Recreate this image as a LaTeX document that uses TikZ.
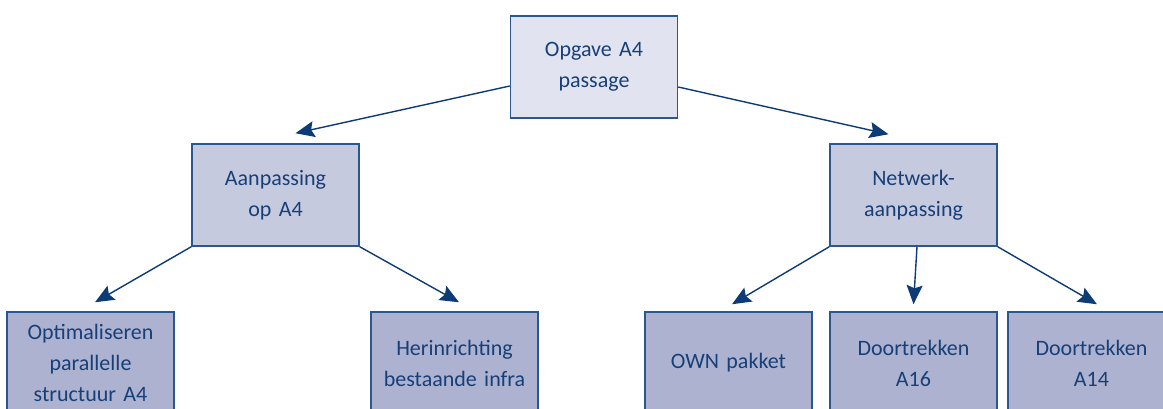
\documentclass[tikz,border=0pt]{standalone}
\usepackage{fontspec}
\setmainfont{Carlito}
\usetikzlibrary{arrows.meta}
\definecolor{fillA}{HTML}{E1E4F0}
\definecolor{fillB}{HTML}{C6CADF}
\definecolor{fillC}{HTML}{ADB2D0}
\definecolor{edgeC}{HTML}{2A5790}
\definecolor{txtC}{HTML}{173F78}
\definecolor{arrC}{HTML}{0D3B75}
\tikzset{
  box/.style={draw=edgeC, line width=1.5pt, minimum width=167pt, minimum height=102pt,
    inner sep=0pt, text width=165pt, align=center, text=txtC,
    font=\fontsize{22}{31}\selectfont},
  lvlA/.style={box, fill=fillA},
  lvlB/.style={box, fill=fillB},
  lvlC/.style={box, fill=fillC},
  arr/.style={draw=arrC, line width=1.4pt, -{Stealth[length=19pt,width=16pt,inset=3pt]}}
}
\begin{document}
\begin{tikzpicture}[x=1pt,y=-1pt]
\clip (0,0) rectangle (1163,408);
\fill[white] (0,0) rectangle (1163,408);
\node[lvlA] (top) at (594,67) {Opgave A4\\passage};
\node[lvlB] (aan) at (275.5,195) {Aanpassing\\op A4};
\node[lvlB] (net) at (913.5,195) {Netwerk-\\aanpassing};
\node[lvlC] (opt) at (90.5,363) {Optimaliseren\\parallelle\\structuur A4};
\node[lvlC] (her) at (454.5,363) {Herinrichting\\bestaande infra};
\node[lvlC] (own) at (728.5,363) {OWN pakket};
\node[lvlC] (a16) at (913.5,363) {Doortrekken\\A16};
\node[lvlC] (a14) at (1091.5,363) {Doortrekken\\A14};
\draw[arr] ([yshift=-19pt]top.west) -- ([xshift=20pt,yshift=10pt]aan.north);
\draw[arr] ([yshift=-20pt]top.east) -- ([xshift=-25pt,yshift=9pt]net.north);
\draw[arr] (aan.south west) -- ([xshift=4.5pt,yshift=9pt]opt.north);
\draw[arr] (aan.south east) -- ([xshift=4.5pt,yshift=9pt]her.north);
\draw[arr] (net.south west) -- ([xshift=3.5pt,yshift=7pt]own.north);
\draw[arr] ([xshift=3.5pt]net.south) -- ([xshift=0pt,yshift=7pt]a16.north);
\draw[arr] (net.south east) -- ([xshift=5.5pt,yshift=7pt]a14.north);
\end{tikzpicture}
\end{document}
